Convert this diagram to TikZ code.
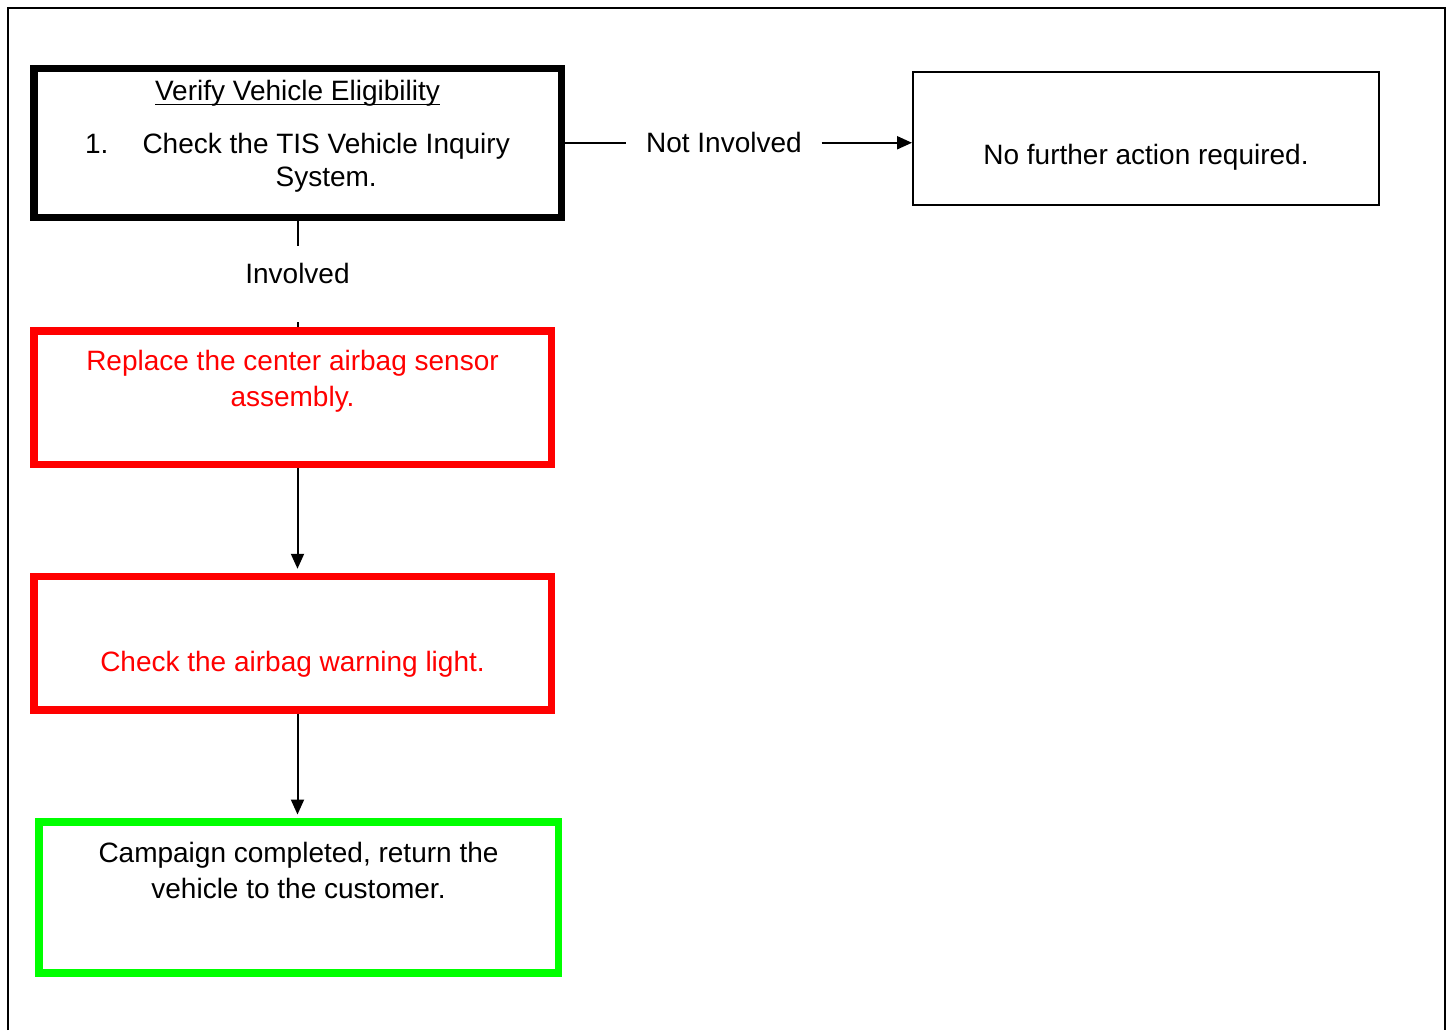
\documentclass[tikz,border=0pt]{standalone}
\usepackage{fontspec}
\setmainfont{Liberation Sans}
\newcommand{\undertext}[1]{\setbox0\hbox{#1}\rlap{\rule[-2.2pt]{\wd0}{0.8pt}}\box0}
\usepackage{tikz}
\usetikzlibrary{arrows.meta,positioning}
\tikzstyle{flowbox}=[draw,rectangle,inner sep=0pt,line width=3.75pt]
\tikzstyle{checkbox}=[flowbox,minimum width=263.75pt,minimum height=74.5pt]
\tikzstyle{redbox}=[flowbox,draw=red,minimum width=258.75pt,minimum height=66.75pt]
\tikzstyle{greenbox}=[flowbox,draw=green,minimum width=259.75pt,minimum height=75.5pt]
\tikzstyle{endbox}=[draw,rectangle,inner sep=0pt,line width=1pt,minimum width=233pt,minimum height=66.5pt]
\tikzstyle{boxtext}=[inner sep=0pt,align=center,font=\fontsize{14pt}{18pt}\selectfont]
\tikzstyle{answer}=[inner xsep=9.75pt,inner ysep=8.7pt,font=\fontsize{14pt}{17.5pt}\selectfont]
\tikzstyle{flow}=[line width=1pt,-{Triangle[length=7.5pt,width=6.5pt]}]

\begin{document}
\begin{tikzpicture}[x=0.5pt,y=-0.5pt]
    \useasboundingbox (0,0) rectangle (1450,1030);
    \draw [line width=1pt] (7.5,1030) -- (7.5,7.5) -- (1445,7.5) -- (1445,1030);

    % eligibility check
    \node [checkbox] (verify) at (297.5,142.75) {};
    \node [boxtext,below=7.9pt of verify.north,font=\fontsize{14pt}{16.25pt}\selectfont] (verifytxt)
      {\undertext{Verify Vehicle Eligibility}\\[10.25pt]
       \begin{tabular}[t]{@{}l@{\hspace{17pt}}c@{}}1. & Check the TIS Vehicle Inquiry\\ & System.\end{tabular}};

    % not involved branch
    \node [answer,right=30.6pt of verify.east] (notinv) {Not Involved};
    \node [endbox] (nofurther) at (1146,138.5) {};
    \node [boxtext,below=36.5pt of nofurther.north] (nofurthertxt) {No further action required.};
    \draw [line width=1pt] (verify.east) -- (notinv.west);
    \draw [flow] (notinv.east) -- (notinv.east -| nofurther.west);

    % involved branch
    \node [answer,below=12.4pt of verify.south] (inv) {Involved};
    \draw [line width=1pt] (verify.south) -- (inv.north);

    \node [redbox] (replace) at (292.5,397.5) {};
    \node [boxtext,text=red,below=11.6pt of replace.north] (replacetxt)
      {Replace the center airbag sensor\\assembly.};
    \coordinate (tick) at (297.5,322);
    \draw [line width=1pt] (tick) -- (tick |- replace.north);

    \node [redbox] (warning) at (292.5,643) {};
    \node [boxtext,text=red,below=39.1pt of warning.north] (warningtxt) {Check the airbag warning light.};

    \node [greenbox] (done) at (298.5,897.5) {};
    \node [boxtext,below=12pt of done.north] (donetxt)
      {Campaign completed, return the\\vehicle to the customer.};

    \draw [flow,shorten >=1.875pt] (replace.south -| inv) -- (warning.north -| inv);
    \draw [flow,shorten >=1.875pt] (warning.south -| inv) -- (done.north -| inv);
\end{tikzpicture}
\end{document}
